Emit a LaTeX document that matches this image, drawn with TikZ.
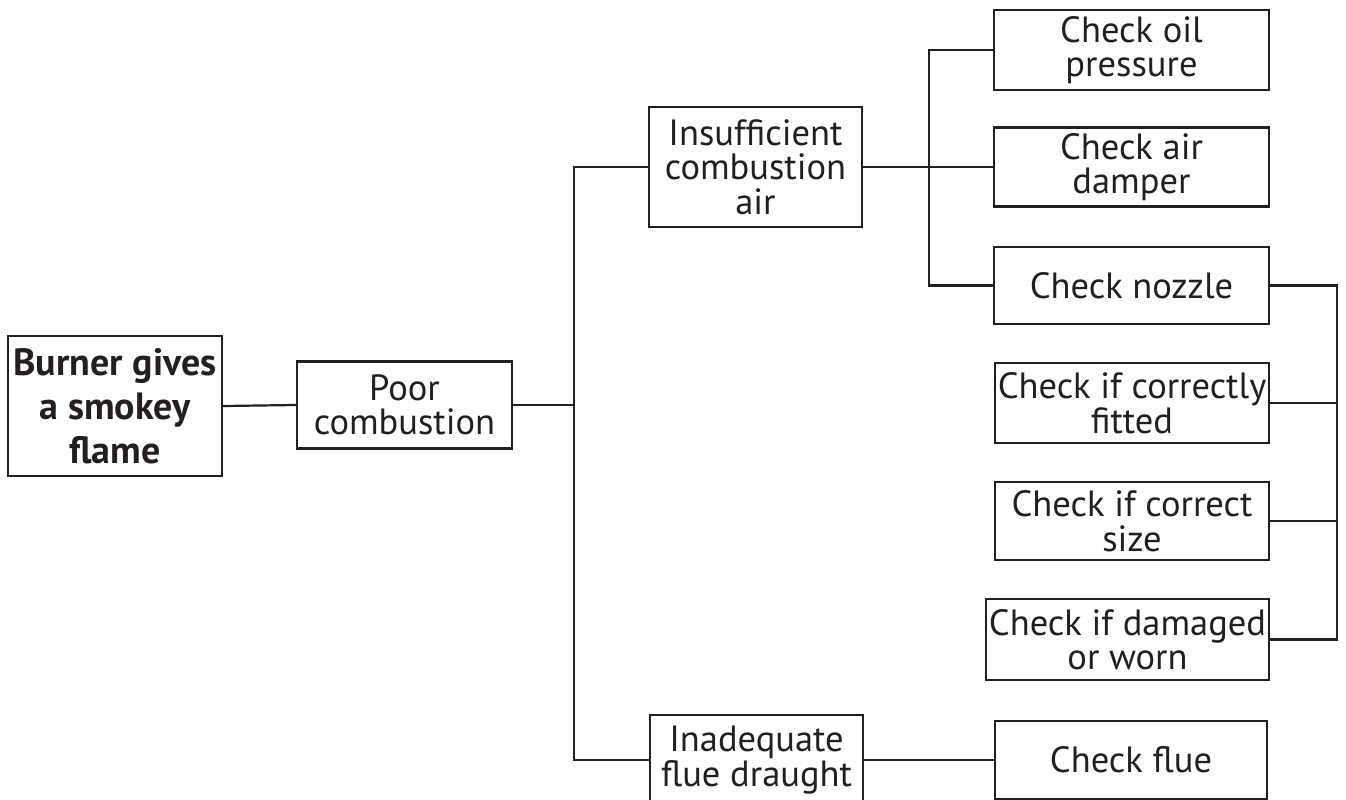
\documentclass[tikz,border=0pt]{standalone}
\usepackage{fontspec}
\setmainfont{PT Sans}
\definecolor{ink}{HTML}{231F20}
\begin{document}
\begin{tikzpicture}[x=1pt,y=-1pt,
  box/.style={draw=ink, line width=2.2pt, inner sep=0pt, align=center, text=ink,
    font=\fontsize{36.5}{34.5}\selectfont},
  link/.style={draw=ink, line width=2.2pt}]
\useasboundingbox (0,0) rectangle (1346,800);
\clip (0,0) rectangle (1346,800);
\node[box, minimum width=214pt, minimum height=140pt, font=\bfseries\fontsize{38}{44}\selectfont] (burner) at (115,406) {Burner gives\\a smokey\\flame};
\node[box, minimum width=215pt, minimum height=87pt] (poor) at (404.5,405) {Poor\\combustion};
\node[box, minimum width=213pt, minimum height=120pt] (insuff) at (755.5,167) {Insufficient\\combustion\\air};
\node[box, minimum width=213pt, minimum height=90pt] (inadeq) at (756.5,760) {Inadequate\\flue draught};
\node[box, minimum width=275pt, minimum height=80pt] (oil) at (1131.5,50) {Check oil\\pressure};
\node[box, minimum width=275pt, minimum height=79pt] (air) at (1131.5,167) {Check air\\damper};
\node[box, minimum width=275pt, minimum height=77pt] (nozzle) at (1131.5,285.5) {Check nozzle};
\node[box, minimum width=274pt, minimum height=80pt] (fitted) at (1132,403) {Check if correctly\\fitted};
\node[box, minimum width=274pt, minimum height=78pt] (size) at (1132,521) {Check if correct\\size};
\node[box, minimum width=283pt, minimum height=81pt] (damaged) at (1127.5,639.5) {Check if damaged\\or worn};
\node[box, minimum width=272pt, minimum height=78pt] (flue) at (1131,760) {Check flue};
\coordinate (b1) at (574,405);
\coordinate (b2) at (929,167);
\coordinate (b3) at (1337,0);
\draw[link] (burner.east) -- (poor.west);
\draw[link] (poor.east) -- (b1);
\draw[link] (insuff.west) -| (b1) |- (inadeq.west);
\draw[link] (insuff.east) -- (air.west);
\draw[link] (oil.west) -| (b2) |- (nozzle.west);
\draw[link] (nozzle.east) -- (nozzle.east -| b3) -- (damaged.east -| b3) -- (damaged.east);
\draw[link] (fitted.east) -- (fitted.east -| b3);
\draw[link] (size.east) -- (size.east -| b3);
\draw[link] (inadeq.east) -- (flue.west);
\end{tikzpicture}
\end{document}
